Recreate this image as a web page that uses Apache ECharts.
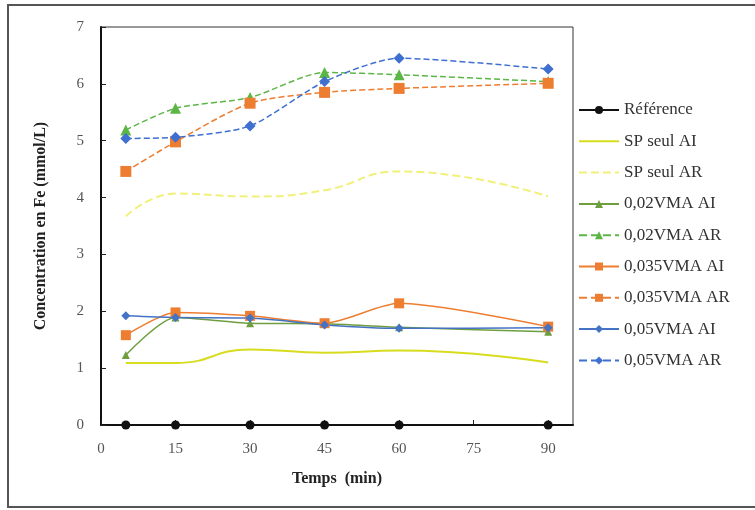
<!DOCTYPE html>
<html>
<head>
<meta charset="utf-8">
<script src="https://cdn.jsdelivr.net/npm/echarts@6/dist/echarts.min.js"></script>
<style>html,body{margin:0;padding:0;background:#fff}#c{width:755px;height:510px}</style>
</head>
<body>
<div id="c"></div>
<script>
const times = [5, 15, 30, 45, 60, 90];
const xTicks = [0, 15, 30, 45, 60, 75, 90];
const yTicks = [0, 1, 2, 3, 4, 5, 6, 7];
const seriesNames = ['Référence', 'SP seul AI', 'SP seul AR', '0,02VMA AI', '0,02VMA AR', '0,035VMA AI', '0,035VMA AR', '0,05VMA AI', '0,05VMA AR'];
const reference = [0, 0, 0, 0, 0, 0];
const spSeulAI = [1.09, 1.09, 1.33, 1.27, 1.31, 1.10];
const spSeulAR = [3.67, 4.07, 4.02, 4.13, 4.46, 4.02];
const vma002AI = [1.23, 1.89, 1.79, 1.78, 1.72, 1.64];
const vma002AR = [5.19, 5.57, 5.76, 6.20, 6.16, 6.04];
const vma0035AI = [1.58, 1.98, 1.92, 1.79, 2.14, 1.73];
const vma0035AR = [4.46, 4.98, 5.66, 5.85, 5.92, 6.01];
const vma005AI = [1.92, 1.89, 1.88, 1.76, 1.70, 1.71];
const vma005AR = [5.04, 5.06, 5.26, 6.04, 6.45, 6.26];

const FONT = '"Liberation Serif", "DejaVu Serif", serif';
const pair = arr => times.map((t, i) => [t, arr[i]]);

function mk(name, data, color, opts) {
  return Object.assign({
    name: name, type: 'line', data: pair(data),
    itemStyle: { color: color },
    lineStyle: { color: color, width: 1.5, type: 'solid' },
    smooth: 0.25, z: 3
  }, opts);
}

const series = [
  mk(seriesNames[0], reference, '#111', { symbol: 'circle', symbolSize: 9, lineStyle: { color: '#111', width: 2 }, smooth: false, z: 5 }),
  mk(seriesNames[1], spSeulAI, '#d8dc1e', { symbol: 'none', lineStyle: { color: '#d8dc1e', width: 2 }, smooth: 0.5 }),
  mk(seriesNames[2], spSeulAR, '#f0f07a', { symbol: 'none', lineStyle: { color: '#f0f07a', width: 2, type: 'dashed' }, smooth: 0.5 }),
  mk(seriesNames[3], vma002AI, '#6e9e3e', { symbol: 'triangle', symbolSize: 8, lineStyle: { color: '#6e9e3e', width: 1.5 } }),
  mk(seriesNames[4], vma002AR, '#5cb646', { symbol: 'triangle', symbolSize: 11, lineStyle: { color: '#5cb646', width: 1.5, type: 'dashed' } }),
  mk(seriesNames[5], vma0035AI, '#ed7d31', { symbol: 'rect', symbolSize: 10, lineStyle: { color: '#ed7d31', width: 1.5 } }),
  mk(seriesNames[6], vma0035AR, '#ed7d31', { symbol: 'rect', symbolSize: 11, lineStyle: { color: '#ed7d31', width: 1.5, type: 'dashed' } }),
  mk(seriesNames[7], vma005AI, '#4472c4', { symbol: 'diamond', symbolSize: 9, lineStyle: { color: '#4472c4', width: 1.5 } }),
  mk(seriesNames[8], vma005AR, '#3f6fd0', { symbol: 'diamond', symbolSize: 11, lineStyle: { color: '#3f6fd0', width: 1.5, type: 'dashed' } })
];

const legendData = seriesNames.map((n, i) => (i === 1 || i === 2) ? { name: n, itemStyle: { opacity: 0 } } : { name: n });

const chart = echarts.init(document.getElementById('c'), null, { renderer: 'canvas' });
chart.setOption({
  animation: false,
  backgroundColor: '#fff',
  textStyle: { fontFamily: FONT },
  graphic: [{
    type: 'rect', shape: { x: 8, y: 5, width: 760, height: 502 },
    style: { fill: 'none', stroke: '#555', lineWidth: 2 }, silent: true, z: -1
  }],
  grid: { left: 101, top: 27, right: 182, bottom: 85, show: true, borderColor: '#333', borderWidth: 1, backgroundColor: 'transparent' },
  legend: {
    orient: 'vertical', left: 578, top: 101.5, padding: 0,
    itemWidth: 40, itemHeight: 10, itemGap: 14.3,
    data: legendData,
    textStyle: { fontFamily: FONT, fontSize: 17, color: '#333' }
  },
  xAxis: {
    type: 'value', min: 0, max: 95, interval: 15,
    name: 'Temps  (min)', nameLocation: 'middle', nameGap: 46,
    nameTextStyle: { fontFamily: FONT, fontSize: 16, fontWeight: 'bold', color: '#222' },
    axisLine: { show: true, lineStyle: { color: '#111', width: 2 } },
    axisTick: { show: true, inside: true, length: 5, lineStyle: { color: '#222' } },
    axisLabel: { showMaxLabel: false, fontFamily: FONT, fontSize: 15, color: '#555', margin: 17,
      formatter: v => xTicks.indexOf(v) >= 0 ? String(v) : '' },
    splitLine: { show: false }
  },
  yAxis: {
    type: 'value', min: 0, max: 7, interval: 1,
    name: 'Concentration en Fe (mmol/L)', nameLocation: 'middle', nameGap: 52,
    nameTextStyle: { fontFamily: FONT, fontSize: 16, fontWeight: 'bold', color: '#222' },
    axisLine: { show: true, lineStyle: { color: '#111', width: 2 } },
    axisTick: { show: true, inside: true, length: 5, lineStyle: { color: '#222' } },
    axisLabel: { fontFamily: FONT, fontSize: 15, color: '#555', margin: 17,
      formatter: v => yTicks.indexOf(v) >= 0 ? String(v) : '' },
    splitLine: { show: false }
  },
  series: series
});
</script>
</body>
</html>
